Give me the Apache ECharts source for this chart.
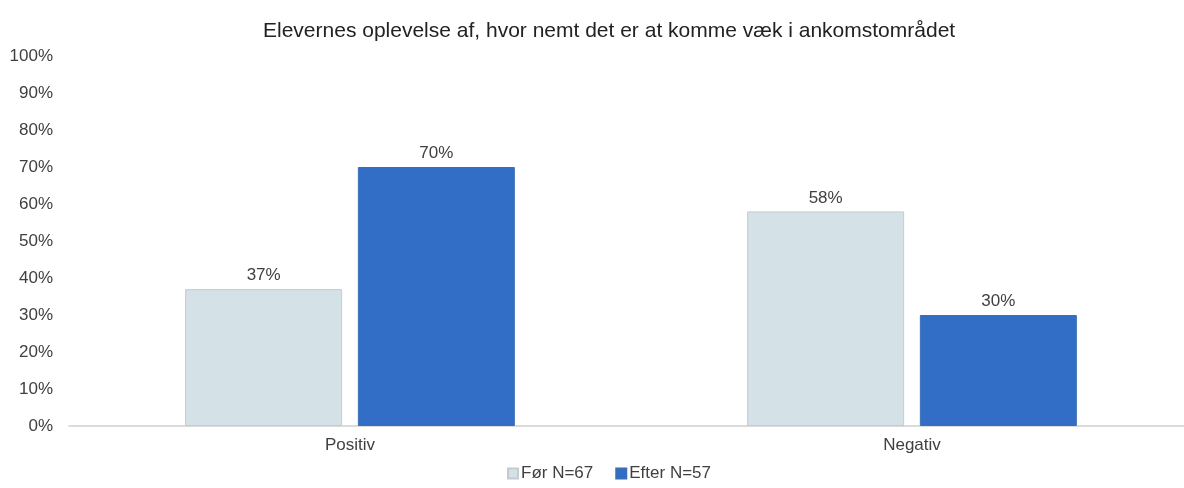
<!DOCTYPE html>
<html>
<head>
<meta charset="utf-8">
<script src="https://cdn.jsdelivr.net/npm/echarts@6/dist/echarts.min.js"></script>
<style>
  html, body { margin: 0; padding: 0; background: #fff; overflow: hidden; }
  #chart { width: 1193px; height: 488px; }
</style>
</head>
<body>
<div id="chart"></div>
<script>
const categories = ['Positiv', 'Negativ']
const foer = [37, 58]
const efter = [70, 30]
const seriesNames = ['Før N=67', 'Efter N=57']

const myChart = echarts.init(document.getElementById('chart'))

const labelStyle = {
  show: true,
  position: 'top',
  distance: 5,
  formatter: (p) => p.value + '%',
  fontFamily: 'Liberation Sans',
  fontSize: 17,
  color: '#404040'
}

const option = {
  animation: false,
  textStyle: { fontFamily: 'Liberation Sans' },
  title: {
    text: 'Elevernes oplevelse af, hvor nemt det er at komme væk i ankomstområdet',
    left: 258,
    top: 16,
    textStyle: {
      fontSize: 21,
      fontWeight: 'normal',
      color: '#222',
      fontFamily: 'Liberation Sans'
    }
  },
  legend: {
    bottom: 1,
    left: 502,
    itemWidth: 10,
    itemHeight: 10,
    itemGap: 22,
    icon: 'rect',
    textStyle: { fontSize: 17, color: '#404040', padding: [0, 0, 0, -2] },
    data: seriesNames
  },
  grid: {
    left: 69,
    right: 0,
    top: 56,
    bottom: 62,
    containLabel: false
  },
  xAxis: {
    type: 'category',
    data: categories,
    axisTick: { show: false },
    axisLine: { lineStyle: { color: '#d0d0d0', width: 1.5 } },
    axisLabel: { fontSize: 17, color: '#404040', margin: 11 }
  },
  yAxis: {
    type: 'value',
    min: 0,
    max: 100,
    interval: 10,
    splitLine: { show: false },
    axisLine: { show: false },
    axisTick: { show: false },
    axisLabel: {
      formatter: (v) => v + '%',
      fontSize: 17,
      color: '#404040',
      margin: 16
    }
  },
  series: [
    {
      name: seriesNames[0],
      type: 'bar',
      data: foer,
      barWidth: 157,
      barGap: '10%',
      itemStyle: { color: '#d4e1e7', borderColor: '#c4ccd0', borderWidth: 1 },
      label: labelStyle
    },
    {
      name: seriesNames[1],
      type: 'bar',
      data: efter,
      barWidth: 157,
      itemStyle: { color: '#326ec5', borderColor: '#3a6fb8', borderWidth: 1 },
      label: labelStyle
    }
  ]
}

myChart.setOption(option)
</script>
</body>
</html>
